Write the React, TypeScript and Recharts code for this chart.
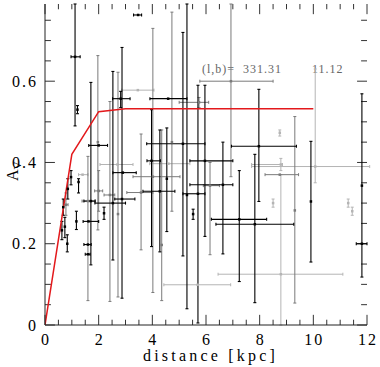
import React from 'react';
import { ComposedChart, Scatter, Line, XAxis, YAxis, ErrorBar, ReferenceLine, Customized } from 'recharts';

// [x, y, xLow, xHigh, yLow, yHigh]
type Bar6 = [number, number, number, number, number, number];

const blackBars: Bar6[] = [
    [0.63, 0.233, 0.63, 0.63, 0.21, 0.255],
    [0.74, 0.242, 0.74, 0.74, 0.215, 0.265],
    [0.68, 0.29, 0.68, 0.68, 0.27, 0.31],
    [0.83, 0.2, 0.83, 0.83, 0.18, 0.222],
    [0.85, 0.335, 0.85, 0.85, 0.31, 0.36],
    [0.97, 0.364, 0.97, 0.97, 0.345, 0.38],
    [1.17, 0.255, 1.17, 1.17, 0.235, 0.28],
    [1.25, 0.352, 1.25, 1.25, 0.325, 0.36],
    [1.12, 0.66, 0.97, 1.31, 0.49, 0.79],
    [1.21, 0.53, 1.21, 1.21, 0.52, 0.54],
    [1.6, 0.198, 1.45, 1.72, 0.198, 0.198],
    [1.6, 0.174, 1.5, 1.68, 0.174, 0.174],
    [1.62, 0.255, 1.42, 2.0, 0.255, 0.255],
    [1.71, 0.305, 1.45, 1.87, 0.148, 0.597],
    [2.0, 0.442, 1.63, 2.33, 0.442, 0.442],
    [2.2, 0.275, 2.2, 2.2, 0.26, 0.29],
    [2.53, 0.3, 1.86, 3.0, 0.16, 0.624],
    [2.87, 0.31, 2.6, 3.35, 0.066, 0.683],
    [2.82, 0.557, 2.52, 3.17, 0.535, 0.575],
    [2.9, 0.375, 2.53, 3.4, 0.375, 0.375],
    [3.47, 0.763, 3.3, 3.6, 0.763, 0.763],
    [4.59, 0.557, 3.91, 5.29, 0.557, 0.557],
    [3.97, 0.404, 3.8, 4.3, 0.193, 0.53],
    [4.28, 0.329, 3.65, 4.84, 0.18, 0.48],
    [4.54, 0.36, 4.54, 4.54, 0.23, 0.485],
    [5.14, 0.446, 3.79, 5.96, 0.17, 0.72],
    [5.29, 0.32, 5.29, 5.29, 0.04, 0.79],
    [5.7, 0.323, 5.14, 5.96, 0.005, 0.59],
    [5.96, 0.404, 5.4, 7.0, 0.218, 0.59],
    [5.52, 0.273, 5.52, 5.52, 0.26, 0.285],
    [6.63, 0.345, 5.4, 7.0, 0.175, 0.45],
    [7.97, 0.44, 6.95, 9.37, 0.304, 0.58],
    [7.24, 0.26, 6.2, 8.26, 0.107, 0.38],
    [7.82, 0.248, 6.37, 9.27, 0.055, 0.42],
    [9.91, 0.304, 9.91, 9.91, 0.155, 0.452],
    [11.81, 0.2, 11.6, 12.0, 0.118, 0.569],
    [11.81, 0.343, 11.81, 11.81, 0.343, 0.343],
];

const grayBars: Bar6[] = [
    [0.78, 0.296, 0.7, 0.86, 0.27, 0.325],
    [1.6, 0.305, 1.38, 1.86, 0.06, 0.415],
    [1.97, 0.45, 1.97, 1.97, 0.234, 0.663],
    [2.0, 0.33, 1.85, 2.15, 0.28, 0.38],
    [2.72, 0.273, 2.72, 2.72, 0.069, 0.622],
    [2.42, 0.32, 2.2, 2.6, 0.058, 0.55],
    [3.58, 0.326, 3.05, 4.02, 0.185, 0.47],
    [4.02, 0.365, 3.28, 5.03, 0.08, 0.73],
    [4.35, 0.197, 4.35, 4.35, 0.06, 0.48],
    [4.73, 0.45, 4.73, 4.73, 0.28, 0.77],
    [5.74, 0.548, 5.0, 6.1, 0.535, 0.56],
    [6.15, 0.343, 5.9, 6.5, 0.173, 0.4],
    [6.93, 0.6, 5.77, 8.5, 0.365, 0.79],
    [8.75, 0.37, 8.2, 9.45, 0.37, 0.37],
    [9.31, 0.282, 9.31, 9.31, 0.054, 0.513],
];

const lightBars: Bar6[] = [
    [1.4, 0.37, 1.25, 1.6, 0.37, 0.37],
    [2.7, 0.395, 2.05, 3.28, 0.395, 0.395],
    [3.46, 0.578, 2.86, 4.06, 0.578, 0.578],
    [4.6, 0.397, 3.9, 5.4, 0.397, 0.397],
    [5.69, 0.099, 4.43, 6.92, 0.099, 0.099],
    [8.79, 0.125, 6.45, 11.1, 0.0, 0.37],
    [8.79, 0.395, 7.7, 8.85, 0.38, 0.41],
    [10.07, 0.39, 7.7, 12.1, 0.35, 0.63],
    [8.75, 0.473, 8.75, 8.75, 0.465, 0.48],
    [8.5, 0.3, 8.5, 8.5, 0.29, 0.31],
    [11.3, 0.3, 11.3, 11.3, 0.29, 0.31],
    [11.45, 0.28, 11.45, 11.45, 0.27, 0.29],
];

// model extinction curve
const modelX = [0, 1, 2, 3, 10];
const modelY = [0, 0.42, 0.525, 0.532, 0.532];

const xMajor = [0, 2, 4, 6, 8, 10, 12];
const xMinor = [0.5, 1, 1.5, 2.5, 3, 3.5, 4.5, 5, 5.5, 6.5, 7, 7.5, 8.5, 9, 9.5, 10.5, 11, 11.5];
const yMajor = [0, 0.2, 0.4, 0.6];
const yMinor = [0.05, 0.1, 0.15, 0.25, 0.3, 0.35, 0.45, 0.5, 0.55, 0.65, 0.7, 0.75];

const toPoints = (rows: Bar6[]) =>
    rows.map(([x, y, xl, xh, yl, yh]) => ({
        x,
        y,
        ex: xl < x || xh > x ? [x - xl, xh - x] : null,
        ey: yl < y || yh > y ? [y - yl, yh - y] : null,
    }));

const modelData = modelX.map((x, i) => ({ x, y: modelY[i] }));

const FONT = "'Times New Roman', 'Liberation Serif', Times, serif";
const TICK = '#333';
const X_DOMAIN: [number, number] = [0, 12];
const Y_DOMAIN: [number, number] = [0, 0.79];
// inward tick lengths in axis units (~10px major, ~5px minor)
const X_LEN = { major: 0.025, minor: 0.013 }; // vertical ticks on x axes (y units)
const Y_LEN = { major: 0.37, minor: 0.22 }; // horizontal ticks on y axes (x units)

const XLabel = (props: any) => (
    <text x={props.x + 1} y={props.y + 12} textAnchor="middle" fontFamily={FONT} fontSize={16} letterSpacing={2} fill="#000">
        {props.payload.value}
    </text>
);

const YLabel = (props: any) => {
    const v = props.payload.value;
    return (
        <text x={props.x + 1} y={props.y + 5.5} textAnchor="end" fontFamily={FONT} fontSize={16} letterSpacing={2} fill="#000">
            {v === 0 ? '0' : v.toFixed(1)}
        </text>
    );
};

const Texts = () => (
    <g fontFamily={FONT}>
        <text x={143} y={361} fontSize={16} letterSpacing={3.2} fill="#000">distance [kpc]</text>
        <text transform="translate(18,181) rotate(-90)" fontSize={16} fill="#000">
            A<tspan fontSize={11} dy={3}>V</tspan>
        </text>
        <g fontSize={12} fill="#666" letterSpacing={1}>
            <text x={202} y={73}>(l,b)=</text>
            <text x={243} y={73}>331.31</text>
            <text x={312} y={73}>11.12</text>
        </g>
    </g>
);

const square = (color: string) => (p: any) => (
    <rect x={p.cx - 1.25} y={p.cy - 1.25} width={2.5} height={2.5} fill={color} />
);

const series = [
    { key: 'light', rows: lightBars, color: '#b4b4b4', width: 1 },
    { key: 'gray', rows: grayBars, color: '#7a7a7a', width: 1 },
    { key: 'black', rows: blackBars, color: '#000', width: 1.1 },
];

// tick marks on all four sides of the frame, as reference segments
const tickSegments = [
    ...[...xMajor.map(v => [v, X_LEN.major]), ...xMinor.map(v => [v, X_LEN.minor])].flatMap(([v, l]) => [
        [{ x: v, y: Y_DOMAIN[0] }, { x: v, y: Y_DOMAIN[0] + l }],
        [{ x: v, y: Y_DOMAIN[1] }, { x: v, y: Y_DOMAIN[1] - l }],
    ]),
    ...[...yMajor.map(v => [v, Y_LEN.major]), ...yMinor.map(v => [v, Y_LEN.minor])].flatMap(([v, l]) => [
        [{ x: X_DOMAIN[0], y: v }, { x: X_DOMAIN[0] + l, y: v }],
        [{ x: X_DOMAIN[1], y: v }, { x: X_DOMAIN[1] - l, y: v }],
    ]),
];

const App: React.FC = () => {
    return (
        <div style={{ position: 'absolute', left: 0, top: 0, width: 380, height: 367, background: '#fff' }}>
            <ComposedChart width={380} height={367} margin={{ top: 4, right: 13, left: 0, bottom: 0 }}>
                <XAxis
                    xAxisId="b"
                    type="number"
                    dataKey="x"
                    domain={X_DOMAIN}
                    ticks={xMajor}
                    interval={0}
                    height={42}
                    tickSize={0}
                    tickMargin={8}
                    tickLine={false}
                    axisLine={{ stroke: '#222' }}
                    tick={XLabel}
                    allowDataOverflow
                />
                <XAxis xAxisId="t" orientation="top" type="number" domain={X_DOMAIN} ticks={xMajor} interval={0} height={0}
                    tickLine={false} tick={false} axisLine={{ stroke: '#222' }} allowDataOverflow />
                <YAxis
                    yAxisId="l"
                    type="number"
                    dataKey="y"
                    domain={Y_DOMAIN}
                    ticks={yMajor}
                    interval={0}
                    width={45}
                    tickSize={0}
                    tickMargin={8}
                    tickLine={false}
                    axisLine={{ stroke: '#222' }}
                    tick={YLabel}
                    allowDataOverflow
                />
                <YAxis yAxisId="r" orientation="right" type="number" domain={Y_DOMAIN} ticks={yMajor} interval={0} width={0}
                    tickLine={false} tick={false} axisLine={{ stroke: '#222' }} allowDataOverflow />

                {tickSegments.map((seg, i) => (
                    <ReferenceLine key={`t${i}`} xAxisId="b" yAxisId="l" segment={seg as any} stroke={TICK} strokeWidth={1} ifOverflow="visible" />
                ))}

                {series.map(s => (
                    <Scatter
                        key={s.key}
                        xAxisId="b"
                        yAxisId="l"
                        data={toPoints(s.rows)}
                        fill={s.color}
                        shape={square(s.color)}
                        isAnimationActive={false}
                    >
                        <ErrorBar dataKey="ey" direction="y" width={1.5} stroke={s.color} strokeWidth={s.width} isAnimationActive={false} />
                        <ErrorBar dataKey="ex" direction="x" width={1.5} stroke={s.color} strokeWidth={s.width} isAnimationActive={false} />
                    </Scatter>
                ))}
                <Line
                    xAxisId="b"
                    yAxisId="l"
                    data={modelData}
                    dataKey="y"
                    type="linear"
                    stroke="#e3191c"
                    strokeWidth={1.5}
                    dot={false}
                    isAnimationActive={false}
                />
                <Customized component={Texts} />
            </ComposedChart>
        </div>
    );
};

export default App;
